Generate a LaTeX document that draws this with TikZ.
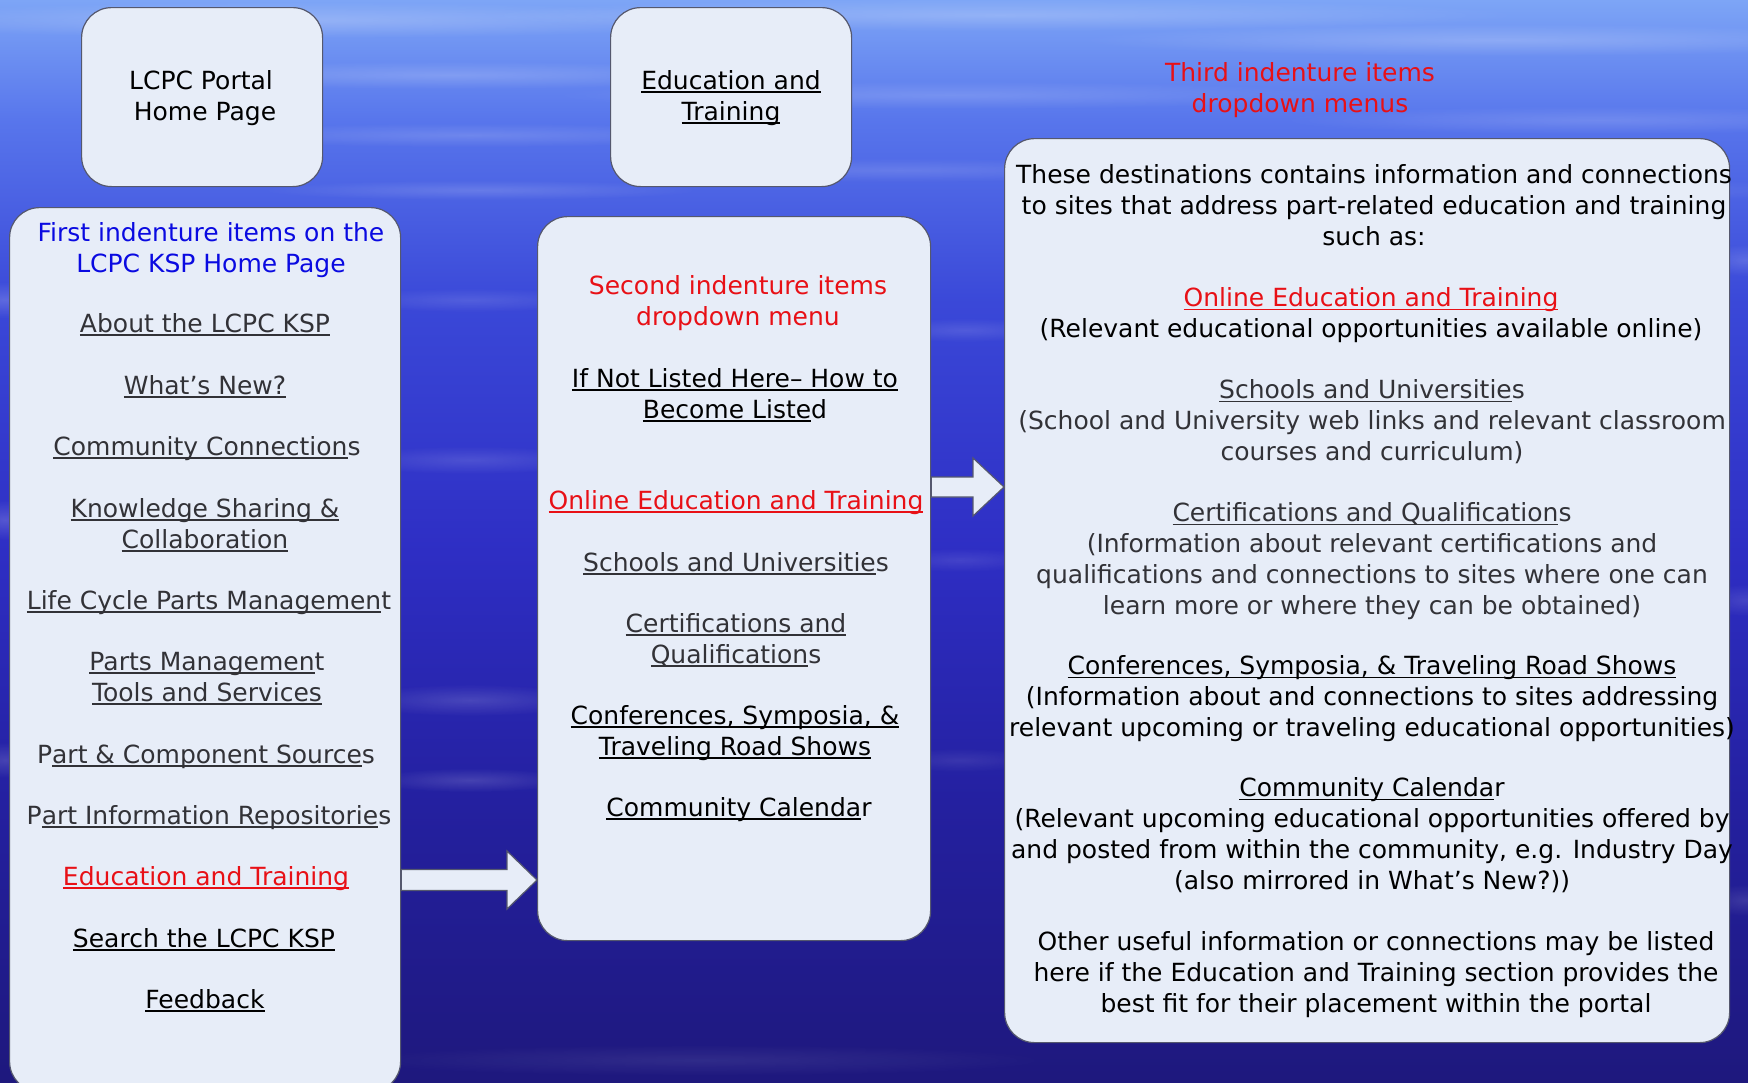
\documentclass[tikz,border=0pt]{standalone}
\usepackage{fontspec}
\setmainfont{DejaVu Sans}
\usetikzlibrary{calc,fadings}
\definecolor{boxfill}{RGB}{231,237,248}
\definecolor{boxline}{RGB}{85,88,110}
\definecolor{txtred}{RGB}{232,16,22}
\definecolor{txtblue}{RGB}{10,10,225}
\definecolor{txtgrey}{RGB}{50,50,55}
\definecolor{bgA}{RGB}{30,24,125}
\definecolor{bgB}{RGB}{36,32,160}
\definecolor{bgC}{RGB}{46,46,196}
\definecolor{bgD}{RGB}{58,72,216}
\definecolor{bgE}{RGB}{88,118,236}
\definecolor{bgF}{RGB}{125,165,246}
\pgfdeclareverticalshading{bgshade}{100bp}{color(0bp)=(bgA); color(25bp)=(bgA); color(38bp)=(bgB); color(49.5bp)=(bgC); color(61bp)=(bgD); color(69.5bp)=(bgE); color(75bp)=(bgF); color(100bp)=(bgF)}
\tikzfading[name=softblob, inner color=transparent!0, outer color=transparent!100]
\newcommand{\myul}[1]{\setbox0=\hbox{#1}\rlap{\rule[-0.14em]{\wd0}{0.07em}}\box0}
\begin{document}
\begin{tikzpicture}[x=0.5pt,y=-0.5pt,
  box/.style={draw=boxline,line width=0.6pt,fill=boxfill,rounded corners=15pt,inner sep=0pt,anchor=north west},
  txt/.style={inner sep=0pt,align=center,anchor=north,font=\fontsize{12.5}{15.5}\selectfont},
  rtxt/.style={inner sep=0pt,align=center,anchor=north,font=\fontsize{12.5}{15.35}\selectfont},
  blockarr/.style={draw=boxline,line width=0.6pt,fill=boxfill,line join=miter}]
\clip (0,0) rectangle (1748,1082);
\fill[shading=bgshade] (0,0) rectangle (1748,1082);
% water streaks
\foreach \x/\y/\rx/\ry/\o in {
  300/20/450/18/0.22, 1000/15/520/16/0.20, 1500/40/420/16/0.20,
  450/75/320/14/0.18, 950/95/400/14/0.15, 1600/120/320/14/0.15,
  470/135/280/12/0.15, 900/170/280/12/0.13, 1500/190/360/12/0.12,
  480/190/220/10/0.15, 5/300/60/18/0.18, 1745/260/40/16/0.15,
  470/300/130/12/0.12, 965/330/90/12/0.12, 470/460/130/14/0.13,
  960/560/80/12/0.10, 470/700/120/16/0.15, 5/520/40/20/0.18,
  470/780/100/12/0.15, 1745/600/40/16/0.12, 5/760/40/18/0.15,
  960/760/80/12/0.09, 700/1060/360/16/0.08, 1745/900/40/16/0.12}
  \fill[white,opacity=\o,path fading=softblob] (\x,\y) ellipse ({\rx} and {\ry});
% boxes
\node[box,minimum width=120.5pt,minimum height=89.5pt] (home) at (81,7) {};
\node[box,minimum width=120.5pt,minimum height=89.5pt] (edtop) at (610,7) {};
\node[box,minimum width=195.5pt,minimum height=442pt] (listbox) at (9,207) {};
\node[box,minimum width=196.5pt,minimum height=362pt] (menubox) at (537,216) {};
\node[box,minimum width=362.5pt,minimum height=452pt] (infobox) at (1004,138) {};
% arrows
\coordinate (r1) at (0,880);
\coordinate (a1s) at (listbox.east |- r1);
\coordinate (a1e) at (menubox.west |- r1);
\draw[blockarr] ($(a1s)+(0,-10.5)$) -- ($(a1e)+(-30,-10.5)$) -- ($(a1e)+(-30,-29)$) -- (a1e)
  -- ($(a1e)+(-30,29)$) -- ($(a1e)+(-30,10.5)$) -- ($(a1s)+(0,10.5)$) -- cycle;
\coordinate (r2) at (0,487);
\coordinate (a2s) at (menubox.east |- r2);
\coordinate (a2e) at (infobox.west |- r2);
\draw[blockarr] ($(a2s)+(0,-10)$) -- ($(a2e)+(-31,-10)$) -- ($(a2e)+(-31,-29)$) -- (a2e)
  -- ($(a2e)+(-31,29)$) -- ($(a2e)+(-31,10)$) -- ($(a2s)+(0,10)$) -- cycle;
% top boxes text
\node[txt] (hometxt) at (201,67) {\strut LCPC Portal\\\strut\ Home Page};
\node[txt] (edtoptxt) at (731,67) {\strut\myul{Education and}\\\strut\myul{Training}};
\node[txt,text=txtred] (third) at (1300,59) {\strut Third indenture items\\\strut dropdown menus};
% left list
\node[txt,text=txtblue] (l0) at (211,219) {\strut First indenture items on the\\\strut LCPC KSP Home Page};
\node[txt,text=txtgrey] (l1) at (205,310) {\strut\myul{About the LCPC KSP}};
\node[txt,text=txtgrey] (l2) at (205,372) {\strut\myul{What’s New?}};
\node[txt,text=txtgrey] (l3) at (207,433) {\strut\myul{Community Connection}s};
\node[txt,text=txtgrey] (l4) at (205,495) {\strut\myul{Knowledge Sharing \&}\\\strut\myul{Collaboration}};
\node[txt,text=txtgrey] (l5) at (209,587) {\strut\myul{Life Cycle Parts Managemen}t};
\node[txt,text=txtgrey] (l6) at (207,648) {\strut\myul{Parts Managemen}t\\\strut\myul{Tools and Services}};
\node[txt,text=txtgrey] (l7) at (206,741) {\strut P\myul{art \& Component Source}s};
\node[txt,text=txtgrey] (l8) at (209,802) {\strut P\myul{art Information Repositorie}s};
\node[txt,text=txtred] (l9) at (206,863) {\strut\myul{Education and Training}};
\node[txt] (l10) at (204,925) {\strut\myul{Search the LCPC KSP}};
\node[txt] (l11) at (205,986) {\strut\myul{Feedback}};
% middle menu
\node[txt,text=txtred] (m0) at (738,272) {\strut Second indenture items\\\strut dropdown menu};
\node[txt] (m1) at (735,365) {\strut\myul{If Not Listed Here– How to}\\\strut\myul{Become Liste}d};
\node[txt,text=txtred] (m2) at (736,487) {\strut\myul{Online Education and Training}};
\node[txt,text=txtgrey] (m3) at (736,549) {\strut\myul{Schools and Universitie}s};
\node[txt,text=txtgrey] (m4) at (736,610) {\strut\myul{Certifications and}\\\strut\myul{Qualification}s};
\node[txt] (m5) at (735,702) {\strut\myul{Conferences, Symposia, \&}\\\strut\myul{Traveling Road Shows}};
\node[txt] (m6) at (739,794) {\strut\myul{Community Calenda}r};
% right info box
\node[rtxt] (p1) at (1374,162) {\strut These destinations contains information and connections\\\strut to sites that address part-related education and training\\\strut such as:};
\node[rtxt] (p2) at (1371,285) {\strut{\color{txtred}\myul{Online Education and Training}}\\\strut(Relevant educational opportunities available online)};
\node[rtxt,text=txtgrey] (p3) at (1372,377) {\strut\myul{Schools and Universitie}s\\\strut(School and University web links and relevant classroom\\\strut courses and curriculum)};
\node[rtxt,text=txtgrey] (p4) at (1372,500) {\strut\myul{Certifications and Qualification}s\\\strut(Information about relevant certifications and\\\strut qualifications and connections to sites where one can\\\strut learn more or where they can be obtained)};
\node[rtxt] (p5) at (1372,653) {\strut\myul{Conferences, Symposia, \& Traveling Road Shows}\\\strut(Information about and connections to sites addressing\\\strut relevant upcoming or traveling educational opportunities)};
\node[rtxt] (p6) at (1372,775) {\strut\myul{Community Calenda}r\\\strut(Relevant upcoming educational opportunities offered by\\\strut and posted from within the community, e.g. Industry Day\\\strut(also mirrored in What’s New?))};
\node[rtxt] (p7) at (1376,929) {\strut Other useful information or connections may be listed\\\strut here if the Education and Training section provides the\\\strut best fit for their placement within the portal};
\end{tikzpicture}
\end{document}
